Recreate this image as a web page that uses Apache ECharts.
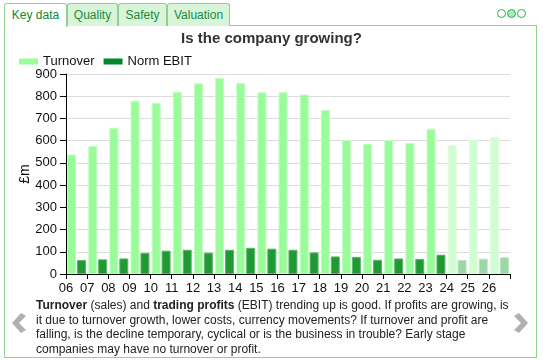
<!DOCTYPE html>
<html>
<head>
<meta charset="utf-8">
<script src="https://cdn.jsdelivr.net/npm/echarts@6/dist/echarts.min.js"></script>
<style>
  html, body { margin: 0; padding: 0; background: #fff; }
  body { width: 543px; height: 364px; position: relative; overflow: hidden; font-family: Arial, "Liberation Sans", sans-serif; }
  #chart { position: absolute; left: 0; top: 0; width: 543px; height: 364px; }
  .panel { position: absolute; left: 4px; top: 25px; width: 533px; height: 333px; border: 1px solid #8fd18f; box-sizing: border-box; }
  .tab { position: absolute; top: 3px; height: 23px; box-sizing: border-box; border: 1px solid #8fd18f; border-bottom: none; background: #d9f5d9; color: #1a8a3a; font-size: 12px; line-height: 22px; text-align: center; border-radius: 3px 3px 0 0; }
  .tab.active { background: #fff; color: #0a8a2e; height: 24px; z-index: 2; }
  .dots { position: absolute; top: 9px; left: 497px; }
  .dot { position: absolute; top: 0; width: 9px; height: 9px; border: 1.3px solid #3aa655; border-radius: 50%; box-sizing: border-box; }
  .desc { position: absolute; left: 36px; top: 298px; width: 470px; font-size: 12px; line-height: 14.7px; color: #222; white-space: nowrap; }
  .arrow { position: absolute; top: 313px; }
</style>
</head>
<body>
<div class="panel"></div>
<div class="tab active" style="left:4px;width:63px;">Key data</div>
<div class="tab" style="left:67px;width:51px;">Quality</div>
<div class="tab" style="left:118px;width:49px;">Safety</div>
<div class="tab" style="left:167px;width:63px;">Valuation</div>
<div class="dots">
  <div class="dot" style="left:0px;"></div>
  <div class="dot" style="left:10px;background:#a8eeb0;"></div>
  <div class="dot" style="left:20px;"></div>
</div>
<div id="chart"></div>
<div class="desc"><b>Turnover</b> (sales) and <b>trading profits</b> (EBIT) trending up is good. If profits are growing, is<br>it due to turnover growth, lower costs, currency movements? If turnover and profit are<br>falling, is the decline temporary, cyclical or is the business in trouble? Early stage<br>companies may have no turnover or profit.</div>
<svg class="arrow" style="left:12px;" width="14" height="20" viewBox="0 0 14 20"><polygon points="9,0 14,3 7,10 14,17 9,20 0,10" fill="#b0b0b0"/></svg>
<svg class="arrow" style="left:514px;" width="14" height="20" viewBox="0 0 14 20"><polygon points="5,0 0,3 7,10 0,17 5,20 14,10" fill="#b0b0b0"/></svg>
<script>
var years = ['06','07','08','09','10','11','12','13','14','15','16','17','18','19','20','21','22','23','24','25','26'];
var turnover = [538, 576, 658, 780, 770, 819, 858, 882, 859, 818, 818, 808, 738, 603, 585, 603, 590, 654, 580, 606, 616];
var normEbit = [63, 66, 70, 95, 105, 109, 96, 109, 118, 114, 109, 97, 79, 77, 64, 70, 68, 87, 63, 69, 75];
var forecastFrom = 18; // index of first forecast year (24)
var yTicks = [0, 100, 200, 300, 400, 500, 600, 700, 800, 900];

var chart = echarts.init(document.getElementById('chart'));
function mk(vals, color, border, fcColor, fcBorder) {
  return vals.map(function (v, i) {
    var f = i >= forecastFrom;
    return { value: v, itemStyle: { color: f ? fcColor : color, borderColor: f ? fcBorder : border, borderWidth: 1 } };
  });
}
var font = 'Arial, "Liberation Sans", sans-serif';
chart.setOption({
  animation: false,
  title: {
    text: 'Is the company growing?',
    left: 'center', top: 26,
    textStyle: { fontSize: 15, fontWeight: 'bold', color: '#333', fontFamily: font }
  },
  legend: {
    left: 14, top: 50,
    icon: 'rect', itemWidth: 19, itemHeight: 6, itemGap: 9,
    textStyle: { fontSize: 13, color: '#111', fontFamily: font },
    data: [
      { name: 'Turnover', itemStyle: { color: '#99ff99' } },
      { name: 'Norm EBIT', itemStyle: { color: '#00882b' } }
    ]
  },
  grid: { left: 66, right: 33, top: 74, bottom: 90, containLabel: false },
  xAxis: {
    type: 'category',
    data: years,
    boundaryGap: true,
    axisLine: { show: true, lineStyle: { color: '#000', width: 1 } },
    axisTick: { show: true, length: 5, lineStyle: { color: '#000' } },
    axisLabel: { interval: 0, fontSize: 13, color: '#111', fontFamily: font, margin: 8, padding: [0, 21, 0, 0] },
    splitLine: { show: false }
  },
  yAxis: {
    type: 'value',
    min: yTicks[0], max: yTicks[yTicks.length - 1], interval: 100,
    name: '£m', nameLocation: 'middle', nameGap: 34, nameRotate: 90, nameMoveOverlap: false,
    nameTextStyle: { fontSize: 14, color: '#111', fontFamily: font },
    axisLine: { show: true, lineStyle: { color: '#000', width: 1 } },
    axisTick: { show: true, length: 6, lineStyle: { color: '#000' } },
    axisLabel: { fontSize: 13, color: '#111', fontFamily: font, margin: 9 },
    splitLine: { show: true, lineStyle: { color: '#dcdcdc', width: 1 } }
  },
  series: [
    { name: 'Turnover', type: 'bar', barWidth: 9, barGap: '10%', data: mk(turnover, '#99fb99', '#c4fdc4', '#d2fdd2', '#e2fee2') },
    { name: 'Norm EBIT', type: 'bar', barWidth: 9, data: mk(normEbit, '#1f9a33', '#5db56b', '#9bd6a5', '#b8e3be') }
  ]
});
</script>
</body>
</html>
